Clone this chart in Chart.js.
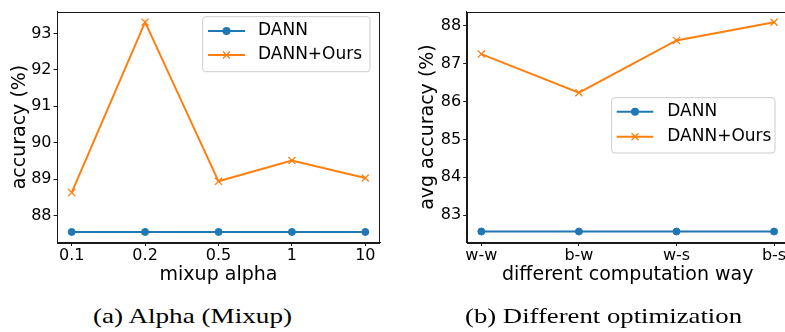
<!DOCTYPE html>
<html>
<head>
<meta charset="utf-8">
<script src="https://cdn.jsdelivr.net/npm/chart.js@4.4.1/dist/chart.umd.min.js"></script>
<style>
  html, body { margin:0; padding:0; background:#fff; }
  body { width:785px; height:332px; overflow:hidden; position:relative; }
  #c1 { position:absolute; left:0; top:0; }
  #c2 { position:absolute; left:390px; top:0; }
  .cap { position:absolute; top:306px; font-family:"Liberation Serif", serif; font-size:21px; line-height:21px;
         white-space:nowrap; color:#000; transform-origin:0 0; }
</style>
</head>
<body>
<canvas id="c1" width="395" height="290"></canvas>
<canvas id="c2" width="410" height="290"></canvas>
<div class="cap" id="capA">(a) Alpha (Mixup)</div>
<div class="cap" id="capB">(b) Different optimization</div>
<script>
// ---- data ----
const alphaLabels = ['0.1', '0.2', '0.5', '1', '10'];
const alphaDANN   = [87.55, 87.55, 87.55, 87.55, 87.55];
const alphaOurs   = [88.63, 93.31, 88.94, 89.51, 89.03];
const alphaTicks  = [88, 89, 90, 91, 92, 93];

const wayLabels = ['w-w', 'b-w', 'w-s', 'b-s'];
const wayDANN   = [82.57, 82.57, 82.57, 82.57];
const wayOurs   = [87.25, 86.23, 87.61, 88.09];
const wayTicks  = [83, 84, 85, 86, 87, 88];

const seriesNames = ['DANN', 'DANN+Ours'];
const BLUE = '#1f77b4', ORANGE = '#ff7f0e';
const FONT = "'DejaVu Sans', sans-serif";

function pts(arr) { return arr.map((v, i) => ({ x: i, y: v })); }

// frame + legend plugin
const frameLegend = {
  id: 'frameLegend',
  afterDatasetsDraw(chart, args, opts) {
    const ctx = chart.ctx, a = chart.chartArea;
    ctx.save();
    ctx.strokeStyle = '#1a1a1a';
    ctx.lineWidth = 1;
    ctx.strokeRect(Math.round(a.left) + 0.5, Math.round(a.top) + 0.5,
                   Math.round(a.right - a.left) - 1, Math.round(a.bottom - a.top));
    // legend
    const L = opts;
    const r = 3;
    ctx.beginPath();
    const x = L.left, y = L.top, w = L.width, h = L.height;
    ctx.moveTo(x + r, y);
    ctx.lineTo(x + w - r, y); ctx.arcTo(x + w, y, x + w, y + r, r);
    ctx.lineTo(x + w, y + h - r); ctx.arcTo(x + w, y + h, x + w - r, y + h, r);
    ctx.lineTo(x + r, y + h); ctx.arcTo(x, y + h, x, y + h - r, r);
    ctx.lineTo(x, y + r); ctx.arcTo(x, y, x + r, y, r);
    ctx.closePath();
    ctx.fillStyle = 'rgba(255,255,255,0.8)';
    ctx.fill();
    ctx.strokeStyle = '#cccccc';
    ctx.stroke();
    chart.data.datasets.forEach((ds, i) => {
      const cy = L.rowY[i];
      ctx.strokeStyle = ds.borderColor;
      ctx.lineWidth = 2;
      ctx.beginPath();
      ctx.moveTo(L.sx0, cy); ctx.lineTo(L.sx1, cy); ctx.stroke();
      const mx = (L.sx0 + L.sx1) / 2;
      if (ds.pointStyle === 'circle') {
        ctx.fillStyle = ds.borderColor;
        ctx.beginPath(); ctx.arc(mx, cy, 4, 0, Math.PI * 2); ctx.fill();
      } else {
        ctx.lineWidth = 1.3;
        const d = 3.5;
        ctx.beginPath();
        ctx.moveTo(mx - d, cy - d); ctx.lineTo(mx + d, cy + d);
        ctx.moveTo(mx - d, cy + d); ctx.lineTo(mx + d, cy - d);
        ctx.stroke();
      }
      ctx.fillStyle = '#000';
      ctx.font = "17px " + FONT;
      ctx.textBaseline = 'middle';
      ctx.textAlign = 'left';
      ctx.fillText(ds.label, L.tx, cy);
    });
    ctx.restore();
  }
};

function makeChart(id, cfg) {
  const n = cfg.labels.length;
  return new Chart(document.getElementById(id), {
    type: 'line',
    data: {
      datasets: [
        { label: seriesNames[0], data: pts(cfg.dann), borderColor: BLUE, backgroundColor: BLUE,
          borderWidth: 2, pointStyle: 'circle', pointRadius: 3.5, pointBorderWidth: 1,
          pointBackgroundColor: BLUE, pointBorderColor: BLUE, tension: 0 },
        { label: seriesNames[1], data: pts(cfg.ours), borderColor: ORANGE, backgroundColor: ORANGE,
          borderWidth: 2, pointStyle: 'crossRot', pointRadius: 5, pointBorderWidth: 1.3,
          pointBorderColor: ORANGE, tension: 0 }
      ]
    },
    options: {
      responsive: false, animation: false, devicePixelRatio: 1,
      layout: { padding: { left: 0, top: 7, right: cfg.padRight, bottom: 0 } },
      plugins: { legend: { display: false }, tooltip: { enabled: false }, frameLegend: cfg.legend },
      scales: {
        x: {
          type: 'linear', min: -cfg.margin, max: n - 1 + cfg.margin,
          afterBuildTicks: s => { s.ticks = cfg.labels.map((_, i) => ({ value: i })); },
          afterFit: s => { s.height = 47.5; },
          ticks: { callback: v => cfg.labels[v], color: '#000', font: { family: FONT, size: 16 },
                   padding: 0, maxRotation: 0, autoSkip: false },
          grid: { display: true, drawOnChartArea: false, drawTicks: true, tickLength: 3.5, color: '#1a1a1a' },
          border: { display: true, color: '#1a1a1a' },
          title: { display: true, text: cfg.xTitle, color: '#000', font: { family: FONT, size: 19 },
                   padding: { top: 0, bottom: 3.6 } }
        },
        y: {
          type: 'linear', min: cfg.yMin, max: cfg.yMax,
          afterBuildTicks: s => { s.ticks = cfg.yTicks.map(v => ({ value: v })); },
          afterFit: s => { s.width = cfg.yWidth; },
          ticks: { color: '#000', font: { family: FONT, size: 16 }, padding: 2 },
          grid: { display: true, drawOnChartArea: false, drawTicks: true, tickLength: 3.5, color: '#1a1a1a' },
          border: { display: true, color: '#1a1a1a' },
          title: { display: true, text: cfg.yTitle, color: '#000', font: { family: FONT, size: 19 },
                   padding: { top: cfg.yTitlePad, bottom: 0 } }
        }
      }
    },
    plugins: [frameLegend]
  });
}

makeChart('c1', {
  labels: alphaLabels, dann: alphaDANN, ours: alphaOurs, yTicks: alphaTicks,
  yMin: 87.26, yMax: 93.6, margin: 0.2, yWidth: 57, padRight: 15, yTitlePad: 9,
  xTitle: 'mixup alpha', yTitle: 'accuracy (%)',
  legend: { left: 202.7, top: 16.7, width: 167.3, height: 55, rowY: [31, 55], sx0: 208, sx1: 245, tx: 258 }
});

makeChart('c2', {
  labels: wayLabels, dann: wayDANN, ours: wayOurs, yTicks: wayTicks,
  yMin: 82.28, yMax: 88.37, margin: 0.15, yWidth: 76.7, padRight: 11.3, yTitlePad: 27,
  xTitle: 'different computation way', yTitle: 'avg accuracy (%)',
  legend: { left: 221.7, top: 97.7, width: 163.3, height: 55.3, rowY: [111.7, 136.7], sx0: 226.7, sx1: 263.3, tx: 277.3 }
});

// captions: stretch to match reference widths
function fitCap(id, left, width) {
  const el = document.getElementById(id);
  el.style.left = left + 'px';
  const w = el.getBoundingClientRect().width;
  el.style.transform = 'scaleX(' + (width / w) + ')';
}
fitCap('capA', 93, 199);
fitCap('capB', 465, 277);
</script>
</body>
</html>
